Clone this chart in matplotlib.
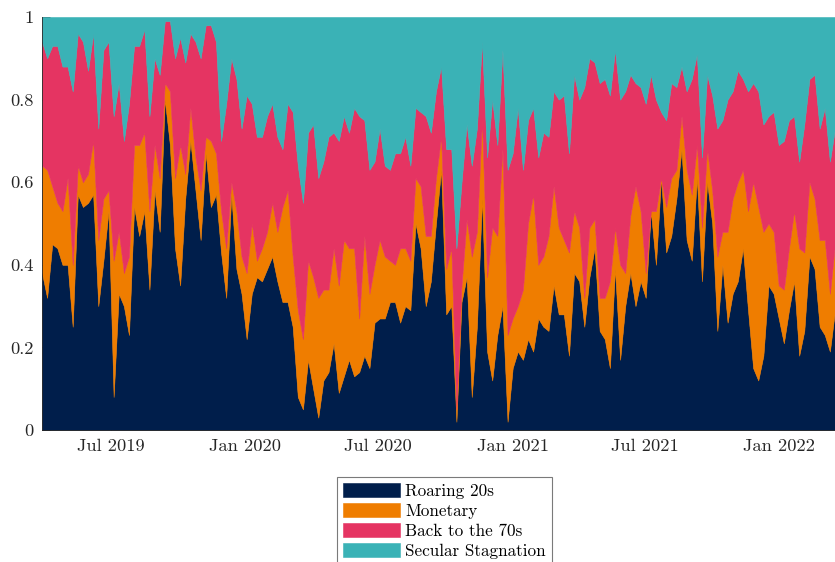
import matplotlib
matplotlib.use("Agg")
import matplotlib.dates as mdates
import matplotlib.pyplot as plt
import pandas as pd

plt.rcParams["font.family"] = ["cmr10", "DejaVu Serif"]
plt.rcParams["axes.formatter.use_mathtext"] = True
plt.rcParams["mathtext.fontset"] = "cm"

# weekly regime shares, first observation
start_date = "2019-03-29"

roaring_20s = [
    .38, .32, .45, .44, .40, .40, .25, .57, .54, .55,
    .57, .30, .41, .53, .08, .33, .30, .23, .54, .47,
    .53, .34, .58, .48, .80, .69, .44, .35, .56, .70,
    .58, .46, .67, .54, .57, .43, .32, .57, .39, .33,
    .22, .33, .37, .36, .39, .42, .36, .31, .31, .25,
    .08, .05, .17, .10, .03, .12, .14, .21, .09, .13,
    .17, .13, .14, .18, .15, .26, .27, .27, .31, .31,
    .26, .30, .29, .50, .44, .30, .36, .50, .63, .28,
    .30, .02, .31, .37, .08, .25, .56, .19, .12, .23,
    .30, .02, .15, .19, .17, .22, .19, .27, .25, .24,
    .35, .28, .28, .18, .38, .36, .25, .37, .44, .24,
    .22, .15, .39, .17, .30, .38, .30, .36, .32, .53,
    .40, .61, .43, .47, .56, .68, .46, .41, .61, .36,
    .60, .50, .24, .40, .26, .33, .36, .44, .29, .15,
    .12, .18, .35, .33, .27, .21, .29, .36, .18, .24,
    .42, .39, .25, .23, .19, .29,
]
monetary = [
    .26, .31, .14, .11, .13, .21, .15, .07, .06, .07,
    .13, .16, .15, .05, .33, .15, .08, .19, .15, .22,
    .19, .19, .11, .13, .04, .13, .17, .34, .06, .08,
    .08, .12, .04, .16, .10, .10, .12, .03, .14, .09,
    .16, .17, .04, .08, .09, .13, .12, .23, .27, .17,
    .21, .17, .24, .27, .29, .22, .20, .23, .26, .33,
    .27, .31, .13, .29, .18, .14, .19, .15, .10, .09,
    .18, .14, .12, .11, .15, .17, .11, .11, .08, .11,
    .14, .03, .04, .14, .34, .23, .19, .18, .37, .24,
    .38, .21, .12, .11, .17, .28, .38, .13, .17, .23,
    .24, .21, .18, .25, .15, .13, .07, .12, .07, .08,
    .10, .21, .10, .23, .08, .14, .29, .17, .06, .00,
    .13, .00, .11, .14, .07, .08, .17, .16, .08, .13,
    .08, .08, .18, .08, .22, .23, .24, .19, .24, .45,
    .42, .30, .15, .15, .08, .13, .15, .17, .26, .19,
    .18, .17, .21, .23, .14, .16,
]
back_to_70s = [
    .30, .27, .34, .38, .35, .27, .42, .32, .34, .25,
    .26, .27, .36, .36, .35, .36, .32, .37, .24, .24,
    .25, .23, .21, .25, .15, .17, .29, .26, .27, .18,
    .28, .32, .27, .28, .27, .17, .35, .30, .32, .31,
    .43, .29, .30, .27, .28, .24, .23, .14, .21, .35,
    .35, .33, .31, .37, .29, .31, .37, .28, .35, .30,
    .28, .34, .49, .28, .30, .25, .27, .22, .22, .27,
    .23, .27, .23, .17, .18, .29, .25, .21, .17, .29,
    .24, .39, .25, .23, .22, .25, .19, .29, .31, .22,
    .24, .40, .40, .48, .29, .25, .21, .26, .30, .24,
    .23, .31, .35, .24, .33, .31, .51, .41, .38, .52,
    .53, .45, .43, .40, .44, .34, .25, .30, .41, .33,
    .27, .16, .21, .23, .20, .12, .19, .28, .22, .17,
    .18, .23, .31, .27, .32, .26, .27, .22, .29, .24,
    .28, .26, .26, .29, .34, .36, .31, .23, .21, .31,
    .25, .30, .27, .32, .32, .28,
]
secular_stagnation = [
    .06, .10, .07, .07, .12, .12, .18, .04, .06, .13,
    .04, .27, .08, .06, .24, .16, .30, .21, .07, .07,
    .03, .24, .10, .14, .01, .01, .10, .05, .11, .04,
    .06, .10, .02, .02, .06, .30, .21, .10, .15, .27,
    .19, .21, .29, .29, .24, .21, .29, .32, .21, .23,
    .36, .45, .28, .26, .39, .35, .29, .28, .30, .24,
    .28, .22, .24, .25, .37, .35, .27, .36, .37, .33,
    .33, .29, .36, .22, .23, .24, .28, .18, .12, .32,
    .32, .56, .40, .26, .36, .27, .06, .34, .20, .31,
    .08, .37, .33, .22, .37, .25, .22, .34, .28, .29,
    .18, .20, .19, .33, .14, .20, .17, .10, .11, .16,
    .15, .19, .08, .20, .18, .14, .16, .17, .21, .14,
    .20, .23, .25, .16, .17, .12, .18, .15, .09, .34,
    .14, .19, .27, .25, .20, .18, .13, .15, .18, .16,
    .18, .26, .24, .23, .31, .30, .25, .24, .35, .26,
    .15, .14, .27, .22, .35, .27,
]

regime_names = ["Roaring 20s", "Monetary", "Back to the 70s", "Secular Stagnation"]
y_ticks = [0, 0.2, 0.4, 0.6, 0.8, 1]
y_tick_labels = ["0", "0.2", "0.4", "0.6", "0.8", "1"]

colours = ["#001e4b", "#ef7d00", "#e53462", "#3ab2b6"]

dates = pd.date_range(start_date, periods=len(roaring_20s), freq="7D")

fig = plt.figure(figsize=(8.35, 5.62), dpi=100)
ax = fig.add_axes([42 / 835, 1 - 430 / 562, 1 - 42 / 835, (430 - 17) / 562])

areas = ax.stackplot(dates, roaring_20s, monetary, back_to_70s, secular_stagnation,
                     colors=colours, labels=regime_names, linewidth=0.4)
for poly, c in zip(areas, colours):
    poly.set_edgecolor(c)

ax.set_xlim(dates[0], dates[-1])
ax.set_ylim(0, 1)
ax.set_yticks(y_ticks)
ax.set_yticklabels(y_tick_labels)
ax.xaxis.set_major_locator(mdates.MonthLocator(bymonth=[1, 7]))
ax.xaxis.set_major_formatter(mdates.DateFormatter("%b %Y"))

ax.set_axisbelow(True)
ax.tick_params(direction="in", length=6, width=0.6, colors="#262626",
               labelsize=13.3, pad=6)
for side in ("top", "right"):
    ax.spines[side].set_visible(False)
for side in ("left", "bottom"):
    ax.spines[side].set_color("#262626")
    ax.spines[side].set_linewidth(0.6)

leg = fig.legend(handles=areas, labels=regime_names, loc="upper center",
                 bbox_to_anchor=(444.5 / 835, 1 - 468 / 562), ncol=1,
                 fontsize=12.3, frameon=True, fancybox=False, framealpha=1,
                 edgecolor="#7a7a7a", borderpad=0.35, handlelength=3.3,
                 handleheight=0.95, handletextpad=0.3, labelspacing=0.22)
leg.get_frame().set_linewidth(0.8)

fig.savefig("out.png", dpi=100)
